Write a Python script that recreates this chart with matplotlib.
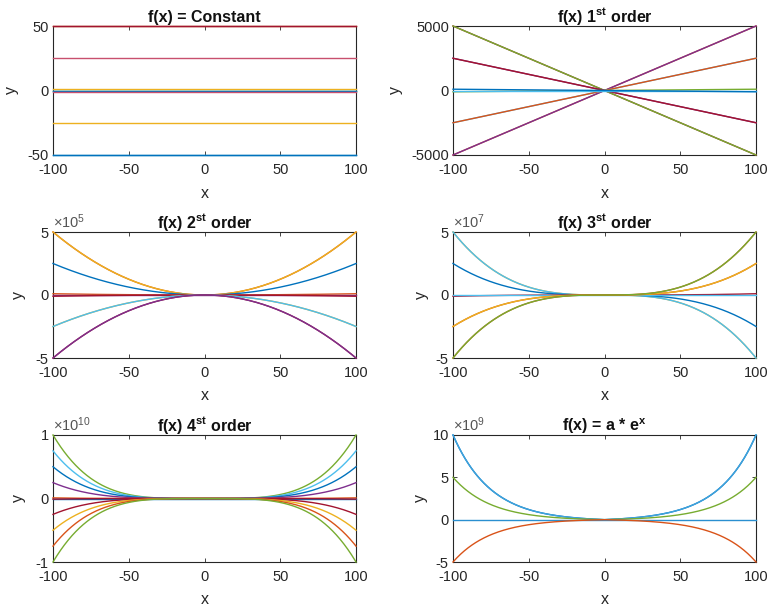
import numpy as np
import matplotlib
matplotlib.use("Agg")
import matplotlib.pyplot as plt
from matplotlib.ticker import FuncFormatter

plt.rcParams["font.family"] = "Liberation Sans"
plt.rcParams["mathtext.fontset"] = "custom"
plt.rcParams["mathtext.rm"] = "Liberation Sans"
plt.rcParams["mathtext.bf"] = "Liberation Sans:bold"
plt.rcParams["mathtext.it"] = "Liberation Sans:italic"
plt.rcParams["axes.unicode_minus"] = False

# matlab default colour order
blue = "#0072BD"
orange = "#D95319"
yellow = "#EDB120"
purple = "#7E2F8E"
green = "#77AC30"
cyan = "#4DBEEE"
darkred = "#A2142F"

x = np.linspace(-100, 100, 401)

# coefficients, with the colour of each line
const_a = [50, 50, 25, 1, 0, 0, 0, -1, -25, -50, -50]
const_colors = [orange, darkred, "#C8506E", yellow, green, cyan, blue, "#C8506E", yellow, cyan, blue]

lin_a = [50, 50, -50, -50, 25, 25, -25, -25, 1, 0, -1]
lin_colors = [orange, purple, darkred, green, cyan, orange, purple, darkred, green, cyan, blue]

quad_a = [50, 50, 25, 1, 0, -1, -25, -25, -50, -50]
quad_colors = [orange, yellow, blue, orange, purple, darkred, yellow, cyan, darkred, purple]

cubic_a = [-50, -50, -25, 1, 0, 25, 25, 50, 50]
cubic_colors = [yellow, cyan, blue, darkred, cyan, orange, yellow, orange, green]

quart_a = [100, 75, 50, 25, 1, 0, -1, -25, -50, -75, -100]
quart_colors = [green, cyan, blue, purple, orange, blue, darkred, darkred, yellow, orange, green]

# exponential panel: value reached at x = +/-100, and growth length
exp_peak = [10e9, 10e9, 5e9, 0, -5e9]
exp_colors = [blue, "#3FA3DD", green, "#2A8FD0", orange]
exp_length = 25.0

titles = [
    "f(x) = Constant",
    r"f(x) 1$^{\mathbf{st}}$ order",
    r"f(x) 2$^{\mathbf{st}}$ order",
    r"f(x) 3$^{\mathbf{st}}$ order",
    r"f(x) 4$^{\mathbf{st}}$ order",
    r"f(x) = a * e$^{\mathbf{x}}$",
]
ylims = [(-50, 50), (-5000, 5000), (-5e5, 5e5), (-5e7, 5e7), (-1e10, 1e10), (-5e9, 10e9)]
yticks = [
    [-50, 0, 50],
    [-5000, 0, 5000],
    [-5e5, 0, 5e5],
    [-5e7, 0, 5e7],
    [-1e10, 0, 1e10],
    [-5e9, 0, 5e9, 10e9],
]
exponents = [0, 0, 5, 7, 10, 9]
ylabel_x = [-0.112, -0.165, -0.089, -0.079, -0.089, -0.083]

W, H = 769, 609
fig = plt.figure(figsize=(W / 100, H / 100), dpi=100)

lefts = [53, 453]
rows = [(26, 155), (232, 358), (435, 562)]

axes = []
for r, (top, bottom) in enumerate(rows):
    for c, left in enumerate(lefts):
        ax = fig.add_axes([left / W, (H - bottom) / H, 303 / W, (bottom - top) / H])
        axes.append(ax)

exp_shape = (np.exp(np.abs(x) / exp_length) - 1) / (np.exp(100 / exp_length) - 1)

curves = [
    [(np.full_like(x, a), col) for a, col in zip(const_a, const_colors)],
    [(a * x, col) for a, col in zip(lin_a, lin_colors)],
    [(a * x ** 2, col) for a, col in zip(quad_a, quad_colors)],
    [(a * x ** 3, col) for a, col in zip(cubic_a, cubic_colors)],
    [(a * x ** 4, col) for a, col in zip(quart_a, quart_colors)],
    [(p * exp_shape, col) for p, col in zip(exp_peak, exp_colors)],
]

text_col = "#262626"


# tick labels scaled by the shared exponent, plain hyphen for minus
def make_formatter(power):
    def fmt(val, pos):
        v = val / 10 ** power
        return "%g" % round(v, 6)
    return FuncFormatter(fmt)


for i, ax in enumerate(axes):
    for y, col in curves[i]:
        ax.plot(x, y, color=col, lw=1.0, zorder=3, clip_on=False)

    ax.set_xlim(-100, 100)
    ax.set_ylim(*ylims[i])
    ax.set_xticks([-100, -50, 0, 50, 100])
    ax.set_yticks(yticks[i])
    ax.yaxis.set_major_formatter(make_formatter(exponents[i]))

    if exponents[i]:
        ax.text(0.0, 1.01, r"$\times$10$^{%d}$" % exponents[i], transform=ax.transAxes,
                ha="left", va="bottom", fontsize=10.5, color="#555555")

    ax.tick_params(direction="in", length=3, width=0.6, colors=text_col,
                   labelsize=10.5, top=True, right=True)
    ax.tick_params(axis="x", pad=6)
    ax.tick_params(axis="y", pad=3)
    for sp in ax.spines.values():
        sp.set_color(text_col)
        sp.set_linewidth(0.8)

    ax.set_title(titles[i], fontsize=11.5, fontweight="bold", pad=3, color="#111111")
    ax.set_xlabel("x", fontsize=11.5, color=text_col)
    ax.set_ylabel("y", fontsize=11.5, color=text_col)
    ax.xaxis.set_label_coords(0.5, -0.24)
    ax.yaxis.set_label_coords(ylabel_x[i], 0.5)

fig.savefig("out.png", dpi=100)
